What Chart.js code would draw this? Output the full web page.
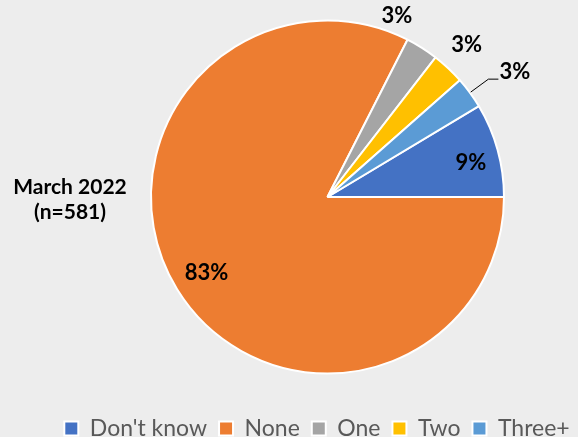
<!DOCTYPE html>
<html>
<head>
<meta charset="utf-8">
<script src="https://cdn.jsdelivr.net/npm/chart.js@4/dist/chart.umd.min.js"></script>
<style>
  html, body { margin: 0; padding: 0; background: #ececec; }
  #wrap { width: 578px; height: 437px; position: relative; }
</style>
</head>
<body>
<div id="wrap"><canvas id="c"></canvas></div>
<script>
// ---- data ----
const categories = ["Don't know", "None", "One", "Two", "Three+"];
const values = [8.6, 82.5, 3.0, 3.0, 2.9];
const sideLabel = ["March 2022", "(n=581)"];

// ---- styles ----
const colors = ["#4472C4", "#ED7D31", "#A5A5A5", "#FFC000", "#5B9BD5"];
// label placement relative to each slice: radius factor, angle offset (deg), leader line
const labelPlacement = [
  { rf: 0.835, da: 2.0 },
  { rf: 0.81, da: -0.6 },
  { rf: 1.10, da: -11.4 },
  { rf: 1.17, da: -0.8 },
  { rf: 1.27, da: 2.2, leader: true }
];

const bgPlugin = {
  id: 'bg',
  beforeDraw(chart) {
    const ctx = chart.ctx;
    ctx.save();
    ctx.fillStyle = '#ededed';
    ctx.fillRect(0, 0, chart.width, chart.height);
    ctx.restore();
  }
};

const areaPlugin = {
  id: 'area',
  afterLayout(chart) {
    const ca = chart.chartArea;
    const cx = 327.5, cy = 197, size = 355;
    ca.left = cx - size / 2; ca.right = cx + size / 2;
    ca.top = cy - size / 2; ca.bottom = cy + size / 2;
    ca.width = size; ca.height = size;
    const lg = chart.legend;
    if (lg) {
      lg.top += 13; lg.bottom += 13;
      lg.left += 28; lg.right += 28;
    }
  }
};

const labelPlugin = {
  id: 'sliceLabels',
  afterDatasetsDraw(chart) {
    const ctx = chart.ctx;
    const meta = chart.getDatasetMeta(0);
    ctx.save();
    ctx.font = 'bold 22px Lato';
    ctx.fillStyle = '#000';
    ctx.textAlign = 'center';
    ctx.textBaseline = 'middle';
    meta.data.forEach((arc, i) => {
      const p = arc.getProps(['x', 'y', 'startAngle', 'endAngle', 'outerRadius'], true);
      const pl = labelPlacement[i];
      const mid = (p.startAngle + p.endAngle) / 2;
      const a = mid + pl.da * Math.PI / 180;
      const txt = Math.round(values[i]) + '%';
      if (pl.leader) {
        const r0 = p.outerRadius + 1;
        const r1 = p.outerRadius * 1.13;
        const x0 = p.x + r0 * Math.cos(mid), y0 = p.y + r0 * Math.sin(mid);
        const x1 = p.x + r1 * Math.cos(mid), y1 = p.y + r1 * Math.sin(mid);
        ctx.beginPath();
        ctx.strokeStyle = '#000';
        ctx.lineWidth = 1;
        ctx.moveTo(x0, y0);
        ctx.lineTo(x1, y1);
        ctx.lineTo(x1 + 10, y1);
        ctx.stroke();
        ctx.textAlign = 'left';
        ctx.fillText(txt, x1 + 11, y1 - 7);
        ctx.textAlign = 'center';
      } else {
        const r = p.outerRadius * pl.rf;
        ctx.fillText(txt, p.x + r * Math.cos(a), p.y + r * Math.sin(a));
      }
    });
    // side label
    ctx.font = 'bold 21px Lato';
    ctx.fillStyle = '#000';
    ctx.textAlign = 'center';
    ctx.textBaseline = 'alphabetic';
    ctx.fillText(sideLabel[0], 70, 194);
    ctx.fillText(sideLabel[1], 70, 219);
    ctx.restore();
  }
};

new Chart(document.getElementById('c'), {
  type: 'pie',
  data: {
    labels: categories,
    datasets: [{
      data: values,
      backgroundColor: colors,
      borderColor: '#ffffff',
      borderWidth: 2,
      clip: false
    }]
  },
  options: {
    responsive: true,
    maintainAspectRatio: false,
    animation: false,
    rotation: 59,
    layout: { padding: { top: 0, bottom: 0, left: 0, right: 0 } },
    plugins: {
      tooltip: { enabled: false },
      legend: {
        position: 'bottom',
        labels: {
          font: { family: 'Lato', size: 23 },
          color: '#595959',
          boxWidth: 14,
          boxHeight: 14,
          padding: 12
        }
      }
    }
  },
  plugins: [bgPlugin, areaPlugin, labelPlugin]
});
</script>
</body>
</html>
